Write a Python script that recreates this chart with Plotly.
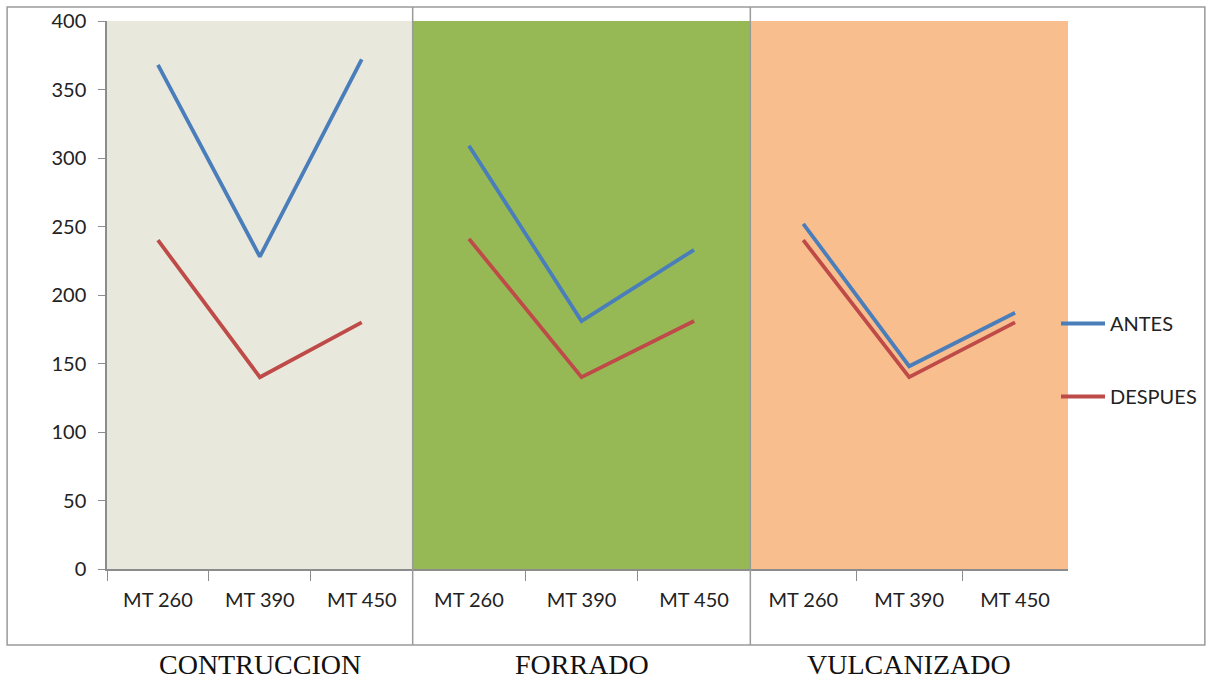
import plotly.graph_objects as go

groups = ["CONTRUCCION", "FORRADO", "VULCANIZADO"]
categories = ["MT 260", "MT 390", "MT 450"]
antes = [[368, 228, 372], [309, 181, 233], [252, 148, 187]]
despues = [[240, 140, 180], [241, 140, 181], [240, 140, 180]]
y_ticks = [0, 50, 100, 150, 200, 250, 300, 350, 400]
panel_colors = ["#E9E8DC", "#97B955", "#F9BE8E"]
blue = "#4A7EBB"
red = "#BE4B48"

W, H = 1213, 681
L, R, T, B = 107, 1069, 21, 569
pw = R - L
ph = B - T
edges = [107, 413, 751, 1069]
doms = [[(edges[i] - L) / pw, (edges[i + 1] - L) / pw] for i in range(3)]

fig = go.Figure()
font_sans = "Lato, 'Open Sans', sans-serif"

for i in range(3):
    xa = "x" if i == 0 else f"x{i+1}"
    fig.add_trace(go.Scatter(x=categories, y=antes[i], mode="lines", name="ANTES",
                             line=dict(color=blue, width=3.8), xaxis=xa, yaxis="y",
                             legendgroup="a", showlegend=(i == 0)))
    fig.add_trace(go.Scatter(x=categories, y=despues[i], mode="lines", name="DESPUES",
                             line=dict(color=red, width=3.8), xaxis=xa, yaxis="y",
                             legendgroup="d", showlegend=(i == 0)))

axis_common = dict(type="category", range=[-0.5, 2.5], tickson="boundaries",
                   ticks="outside", ticklen=10, tickcolor="#8C8C8C", tickwidth=1,
                   showline=True, linecolor="#8C8C8C", linewidth=1.5, showgrid=False,
                   zeroline=False, fixedrange=True, automargin=False,
                   ticklabelstandoff=12,
                   tickfont=dict(family=font_sans, size=20, color="#222"),
                   anchor="y")

layout = dict(
    width=W, height=H,
    margin=dict(l=L, r=W - R, t=T, b=H - B),
    paper_bgcolor="white", plot_bgcolor="rgba(0,0,0,0)",
    yaxis=dict(range=[0, 400], tickvals=y_ticks, ticks="outside", ticklen=7,
               tickcolor="#8C8C8C", showline=True, linecolor="#8C8C8C", linewidth=1.5,
               showgrid=False, zeroline=False, automargin=False, fixedrange=True,
               ticklabelstandoff=8,
               tickfont=dict(family=font_sans, size=20, color="#222")),
    legend=dict(x=(1056 - L) / pw, y=(B - 304) / ph, xanchor="left", yanchor="top",
                font=dict(family=font_sans, size=20, color="#222"),
                tracegroupgap=44, itemwidth=44, bgcolor="rgba(0,0,0,0)"),
    showlegend=True,
)
for i in range(3):
    key = "xaxis" if i == 0 else f"xaxis{i+1}"
    layout[key] = dict(axis_common, domain=doms[i])
fig.update_layout(**layout)

shapes = []
for i in range(3):
    xr = "x" if i == 0 else f"x{i+1}"
    shapes.append(dict(type="rect", xref=f"{xr} domain", yref="y", x0=0, x1=1, y0=0,
                       y1=400, fillcolor=panel_colors[i], line=dict(width=0), layer="below"))
# outer border
shapes.append(dict(type="rect", xref="paper", yref="paper",
                   x0=(7 - L) / pw, x1=(1206 - L) / pw, y0=(B - 645) / ph, y1=(B - 7) / ph,
                   line=dict(color="#9A9A9A", width=1.5), fillcolor="rgba(0,0,0,0)"))
for e in edges[1:3]:
    shapes.append(dict(type="line", xref="paper", yref="paper",
                       x0=(e - L) / pw, x1=(e - L) / pw, y0=(B - 645) / ph, y1=(B - 7) / ph,
                       line=dict(color="#9A9A9A", width=1.5)))
fig.update_layout(shapes=shapes)

for i, g in enumerate(groups):
    xr = "x" if i == 0 else f"x{i+1}"
    fig.add_annotation(text=g, xref=f"{xr} domain", x=0.5, yref="paper",
                       y=(B - 664) / ph, yanchor="middle", showarrow=False,
                       font=dict(family="'Liberation Serif', 'Times New Roman', serif",
                                 size=28, color="#111"))

fig.write_html("out.html", config={"displayModeBar": False},
               post_script="document.body.style.margin='0';document.body.style.overflow='hidden';")
